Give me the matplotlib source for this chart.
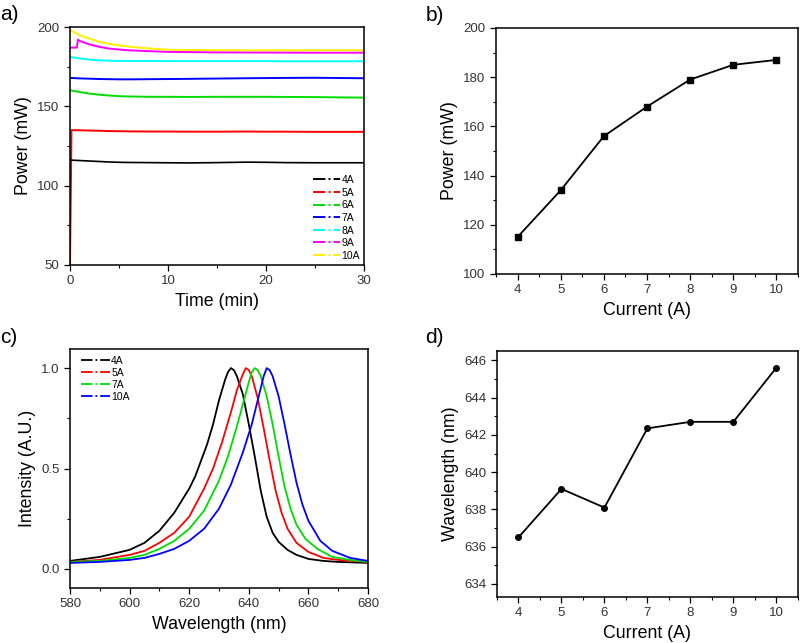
import numpy as np
import matplotlib.pyplot as plt
from matplotlib.lines import Line2D
from matplotlib.ticker import MultipleLocator

plt.rcParams['font.family'] = ['Liberation Sans', 'DejaVu Sans']

# panel a: power vs time for each drive current
t_a = [0, 1, 2, 3, 4, 5, 6, 8, 10, 12, 15, 18, 20, 22, 25, 28, 30]
p_4A = [116.1, 115.8, 115.5, 115.2, 114.9, 114.7, 114.6, 114.5, 114.4, 114.3, 114.5, 114.8, 114.7, 114.5, 114.4, 114.4, 114.4]
p_5A = [135.0, 134.9, 134.7, 134.6, 134.4, 134.3, 134.2, 134.1, 134.1, 134.0, 134.0, 134.1, 134.0, 134.0, 133.9, 133.9, 133.9]
p_6A = [160.1, 159.0, 158.0, 157.3, 156.8, 156.4, 156.2, 156.0, 156.0, 155.9, 156.0, 156.0, 156.0, 155.9, 155.8, 155.6, 155.5]
p_7A = [167.9, 167.6, 167.4, 167.2, 167.1, 167.0, 167.0, 167.1, 167.2, 167.3, 167.5, 167.7, 167.8, 167.9, 168.0, 167.8, 167.7]
p_8A = [181.1, 180.2, 179.4, 179.0, 178.8, 178.6, 178.6, 178.6, 178.5, 178.5, 178.5, 178.5, 178.5, 178.4, 178.4, 178.4, 178.4]
p_9A_t = [0, 0.7, 0.8, 1, 2, 3, 4, 5, 6, 8, 10, 15, 20, 25, 30]
p_9A = [187.0, 187.0, 192.0, 191.2, 189.0, 187.5, 186.4, 185.8, 185.3, 184.8, 184.3, 184.0, 183.9, 183.8, 183.8]
p_10A = [198.0, 194.8, 192.7, 190.6, 189.4, 188.5, 187.6, 186.5, 185.7, 185.5, 185.4, 185.3, 185.3, 185.3, 185.3, 185.3, 185.3]

# panel b / d: summary vs current
current = [4, 5, 6, 7, 8, 9, 10]
power = [115, 134, 156, 168, 179, 185, 187]
peak_wl = [636.5, 639.1, 638.1, 642.35, 642.7, 642.7, 645.6]

# panel c: normalised spectra
wl_4A = [580, 590, 600, 605, 610, 615, 620, 622, 624, 626, 628, 630, 632, 633, 634, 635, 636, 638, 640, 642, 644, 646, 648, 650, 653, 656, 660, 665, 670, 680]
in_4A = [0.04, 0.06, 0.095, 0.13, 0.19, 0.28, 0.40, 0.46, 0.54, 0.62, 0.72, 0.84, 0.94, 0.98, 1.0, 0.99, 0.96, 0.87, 0.72, 0.56, 0.39, 0.26, 0.18, 0.135, 0.095, 0.07, 0.05, 0.04, 0.035, 0.03]
wl_5A = [580, 590, 600, 605, 610, 615, 620, 625, 628, 631, 634, 636, 638, 639, 640, 641, 643, 645, 647, 649, 651, 653, 656, 660, 665, 670, 680]
in_5A = [0.035, 0.045, 0.07, 0.09, 0.13, 0.18, 0.26, 0.40, 0.50, 0.63, 0.78, 0.89, 0.97, 1.0, 0.99, 0.96, 0.85, 0.70, 0.54, 0.39, 0.28, 0.20, 0.13, 0.085, 0.055, 0.045, 0.035]
wl_7A = [580, 590, 600, 605, 610, 615, 620, 625, 630, 633, 636, 638, 640, 641, 642, 643, 644, 646, 648, 650, 652, 654, 656, 659, 663, 668, 674, 680]
in_7A = [0.035, 0.04, 0.055, 0.07, 0.10, 0.14, 0.20, 0.29, 0.44, 0.56, 0.71, 0.82, 0.93, 0.98, 1.0, 0.99, 0.96, 0.86, 0.72, 0.56, 0.41, 0.30, 0.22, 0.15, 0.10, 0.06, 0.045, 0.035]
wl_10A = [580, 590, 600, 605, 610, 615, 620, 625, 630, 634, 638, 641, 643, 645, 646, 647, 648, 650, 652, 654, 656, 658, 660, 664, 668, 674, 680]
in_10A = [0.03, 0.035, 0.045, 0.055, 0.075, 0.10, 0.14, 0.20, 0.30, 0.42, 0.58, 0.72, 0.84, 0.96, 1.0, 0.99, 0.96, 0.86, 0.72, 0.57, 0.43, 0.32, 0.24, 0.14, 0.09, 0.055, 0.04]

GREEN = '#00dd00'
YELLOW = '#ffee00'
lab_fs = 12.8
tick_fs = 9.5

fig = plt.figure(figsize=(8, 6.43), dpi=100)
ax_a = fig.add_axes([0.0875, 0.588, 0.3675, 0.370])
ax_b = fig.add_axes([0.62, 0.574, 0.3775, 0.3826])
ax_c = fig.add_axes([0.0875, 0.0855, 0.3725, 0.3717])
ax_d = fig.add_axes([0.62125, 0.0715, 0.376, 0.3826])


def style(ax):
    ax.tick_params(which='both', direction='out', labelsize=tick_fs, labelcolor='#333333')
    ax.tick_params(which='major', length=4, width=0.9)
    ax.tick_params(which='minor', length=2, width=0.8)
    for s in ax.spines.values():
        s.set_linewidth(1.1)


# a)
ax_a.plot([0, 0.15] + t_a[1:], [50, 135.0] + p_5A[1:], color='red', lw=1.4)
ax_a.plot(t_a, p_4A, color='black', lw=1.2)
ax_a.plot(t_a, p_6A, color=GREEN, lw=1.4)
ax_a.plot(t_a, p_7A, color='blue', lw=1.4)
ax_a.plot(t_a, p_8A, color='cyan', lw=1.4)
ax_a.plot(p_9A_t, p_9A, color='magenta', lw=1.4)
ax_a.plot(t_a, p_10A, color=YELLOW, lw=1.4)
ax_a.set_xlim(0, 30)
ax_a.set_ylim(50, 200)
ax_a.xaxis.set_major_locator(MultipleLocator(10))
ax_a.xaxis.set_minor_locator(MultipleLocator(5))
ax_a.yaxis.set_major_locator(MultipleLocator(50))
ax_a.yaxis.set_minor_locator(MultipleLocator(25))
ax_a.set_xlabel('Time (min)', fontsize=lab_fs)
ax_a.set_ylabel('Power (mW)', fontsize=lab_fs)
style(ax_a)
cols_a = ['black', 'red', GREEN, 'blue', 'cyan', 'magenta', YELLOW]
labs_a = ['4A', '5A', '6A', '7A', '8A', '9A', '10A']
h_a = [Line2D([], [], color=c, ls='-.', lw=1.4) for c in cols_a]
ax_a.legend(h_a, labs_a, loc='lower right', frameon=False, fontsize=7.5,
            handlelength=2.6, handletextpad=0.1, labelspacing=0.25,
            borderaxespad=0.2, borderpad=0.2)

# b)
ax_b.plot(current, power, color='black', lw=1.3, marker='s', ms=4)
ax_b.set_xlim(3.5, 10.5)
ax_b.set_ylim(100, 200)
ax_b.xaxis.set_major_locator(MultipleLocator(1))
ax_b.xaxis.set_minor_locator(MultipleLocator(0.5))
ax_b.yaxis.set_major_locator(MultipleLocator(20))
ax_b.yaxis.set_minor_locator(MultipleLocator(10))
ax_b.set_xlabel('Current (A)', fontsize=lab_fs)
ax_b.set_ylabel('Power (mW)', fontsize=lab_fs)
style(ax_b)

# c)
ax_c.plot(wl_4A, in_4A, color='black', lw=1.3)
ax_c.plot(wl_5A, in_5A, color='red', lw=1.3)
ax_c.plot(wl_7A, in_7A, color=GREEN, lw=1.3)
ax_c.plot(wl_10A, in_10A, color='blue', lw=1.3)
ax_c.set_xlim(580, 680)
ax_c.set_ylim(-0.095, 1.095)
ax_c.xaxis.set_major_locator(MultipleLocator(20))
ax_c.xaxis.set_minor_locator(MultipleLocator(10))
ax_c.yaxis.set_major_locator(MultipleLocator(0.5))
ax_c.yaxis.set_minor_locator(MultipleLocator(0.25))
ax_c.yaxis.set_major_formatter(plt.FormatStrFormatter('%.1f'))
ax_c.set_xlabel('Wavelength (nm)', fontsize=lab_fs)
ax_c.set_ylabel('Intensity (A.U.)', fontsize=lab_fs)
style(ax_c)
h_c = [Line2D([], [], color=c, ls='-.', lw=1.3) for c in ['black', 'red', GREEN, 'blue']]
ax_c.legend(h_c, ['4A', '5A', '7A', '10A'], loc='upper left', bbox_to_anchor=(0.03, 0.98),
            frameon=False, fontsize=7.5, handlelength=2.8, handletextpad=0.1,
            labelspacing=0.2, borderaxespad=0, borderpad=0.2)

# d)
ax_d.plot(current, peak_wl, color='black', lw=1.3, marker='o', ms=4)
ax_d.set_xlim(3.5, 10.5)
ax_d.set_ylim(633.3, 646.5)
ax_d.xaxis.set_major_locator(MultipleLocator(1))
ax_d.xaxis.set_minor_locator(MultipleLocator(0.5))
ax_d.yaxis.set_major_locator(MultipleLocator(2))
ax_d.yaxis.set_minor_locator(MultipleLocator(1))
ax_d.set_xlabel('Current (A)', fontsize=lab_fs)
ax_d.set_ylabel('Wavelength (nm)', fontsize=lab_fs)
style(ax_d)

for txt, x, y in [('a)', 0.0, 0.993), ('b)', 0.532, 0.99), ('c)', 0.0, 0.49), ('d)', 0.532, 0.49)]:
    fig.text(x, y, txt, fontsize=15, va='top', ha='left')

fig.savefig('out.png', dpi=100)
